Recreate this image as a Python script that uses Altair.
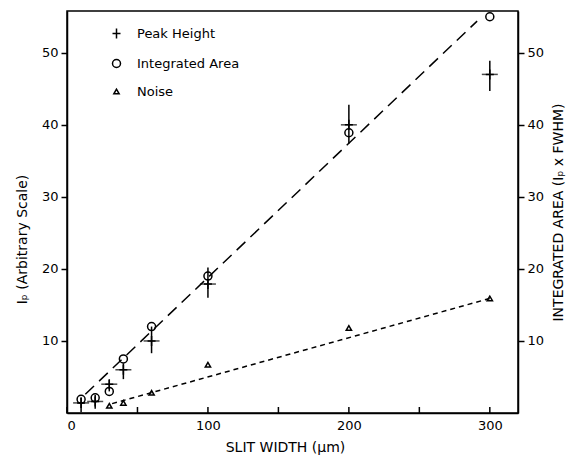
import altair as alt
import pandas as pd

# ---- data ----
slit = [10, 20, 30, 40, 60, 100, 200, 300]
peak = [1.4, 1.6, 4.0, 6.0, 10.0, 17.9, 40.0, 47.0]
peak_lo = [0.1, 0.6, 3.0, 4.7, 8.3, 16.0, 37.4, 44.7]
peak_hi = [2.2, 2.5, 4.6, 6.9, 12.0, 20.2, 42.8, 48.9]
area = [1.9, 2.1, 3.0, 7.5, 12.0, 19.0, 38.9, 55.0]
noise_slit = [30, 40, 60, 100, 200, 300]
noise = [1.0, 1.4, 2.8, 6.7, 11.8, 15.9]

area_fit_x = [13, 291]
area_fit_y = [2.6, 54.4]
noise_fit_x = [32, 300]
noise_fit_y = [1.3, 15.9]

series = ["Peak Height", "Integrated Area", "Noise"]
x_ticks = [0, 50, 100, 150, 200, 250, 300]
y_ticks = [10, 20, 30, 40, 50]

W, H = 451, 402
FONT = "DejaVu Sans"
XDOM = [0, 320]
YDOM = [0, 55.8]

pts = pd.DataFrame(
    [{"series": "Peak Height", "x": a, "y": b} for a, b in zip(slit, peak)]
    + [{"series": "Integrated Area", "x": a, "y": b} for a, b in zip(slit, area)]
    + [{"series": "Noise", "x": a, "y": b} for a, b in zip(noise_slit, noise)]
)
err = pd.DataFrame({"x": slit, "y": peak, "lo": peak_lo, "hi": peak_hi})
area_fit = pd.DataFrame({"x": area_fit_x, "y": area_fit_y})
noise_fit = pd.DataFrame({"x": noise_fit_x, "y": noise_fit_y})
ticks = pd.DataFrame({"x": x_ticks})

xs = alt.Scale(domain=XDOM, nice=False, zero=False)
ys = alt.Scale(domain=YDOM, nice=False, zero=False)

x_axis = alt.Axis(
    values=x_ticks,
    labelExpr="datum.value % 100 === 0 ? datum.label : ''",
    ticks=False,
    grid=False,
    labelPadding=6,
    labelFontSize=13,
    title="SLIT WIDTH (μm)",
    titleFontSize=14,
    titleFontWeight="normal",
    titlePadding=8,
    titleX=218,
)


def X(field="x"):
    return alt.X(f"{field}:Q", scale=xs, axis=x_axis)


def Y(field="y", axis=None):
    return alt.Y(f"{field}:Q", scale=ys, axis=axis)


left_axis = alt.Axis(
    values=y_ticks,
    grid=False,
    tickSize=6,
    labelPadding=3,
    labelFontSize=13,
    title="Iₚ (Arbitrary Scale)",
    titleFontSize=14,
    titleFontWeight="normal",
    titlePadding=12,
    titleY=228,
)
right_axis = alt.Axis(
    orient="right",
    values=y_ticks,
    grid=False,
    tickSize=6,
    labelPadding=3,
    labelFontSize=13,
    title="INTEGRATED AREA (Iₚ x FWHM)",
    titleFontSize=14,
    titleFontWeight="normal",
    titleAngle=270,
    titlePadding=22,
)

legend = alt.Legend(
    title=None,
    orient="none",
    legendX=43,
    legendY=16,
    labelFontSize=13,
    labelOffset=14,
    rowPadding=14,
    symbolStrokeWidth=1.5,
    symbolStrokeColor="black",
    symbolFillColor="transparent",
    padding=0,
)

shape_scale = alt.Scale(
    domain=series,
    range=["M-0.8,0L0.8,0M0,-1L0,1", "circle", "triangle-up"],
)
size_scale = alt.Scale(domain=series, range=[100, 28, 55])

points = alt.Chart(pts).mark_point(
    filled=False, color="black", strokeWidth=1.5, opacity=1
).encode(
    x=X(),
    y=Y(axis=left_axis),
    shape=alt.Shape("series:N", scale=shape_scale, legend=legend),
    size=alt.Size("series:N", scale=size_scale, legend=legend),
)

errbars = alt.Chart(err).mark_rule(color="black", strokeWidth=1.5).encode(
    x=X(), y=Y("lo"), y2="hi:Q"
)
crossbars = alt.Chart(err).mark_point(
    shape="M-1,0L1,0", size=256, color="black", strokeWidth=1.5, filled=False
).encode(x=X(), y=Y())

area_line = alt.Chart(area_fit).mark_line(
    color="black", strokeWidth=1.5, strokeDash=[12, 7]
).encode(x=X(), y=Y(axis=right_axis))
noise_line = alt.Chart(noise_fit).mark_line(
    color="black", strokeWidth=1.5, strokeDash=[5, 4]
).encode(x=X(), y=Y())

xticks = alt.Chart(ticks).mark_rule(color="black", strokeWidth=1.5).encode(
    x=X(), y=alt.value(H), y2=alt.value(H - 6)
)

chart = (
    alt.layer(points, errbars, crossbars, noise_line, xticks, area_line)
    .resolve_scale(y="independent")
    .properties(
        width=W,
        height=H,
        autosize=alt.AutoSizeParams(type="none"),
        padding={"left": 67, "top": 11, "right": 49, "bottom": 43},
        background="white",
    )
    .configure_view(stroke="black", strokeWidth=1.5)
    .configure_axis(
        domainColor="black",
        domainWidth=1.5,
        tickColor="black",
        tickWidth=1.5,
        labelColor="black",
        titleColor="black",
        labelFont=FONT,
        titleFont=FONT,
    )
    .configure_legend(labelFont=FONT, labelColor="black")
)

chart.save("out.html", embed_options={"renderer": "svg", "actions": False})
